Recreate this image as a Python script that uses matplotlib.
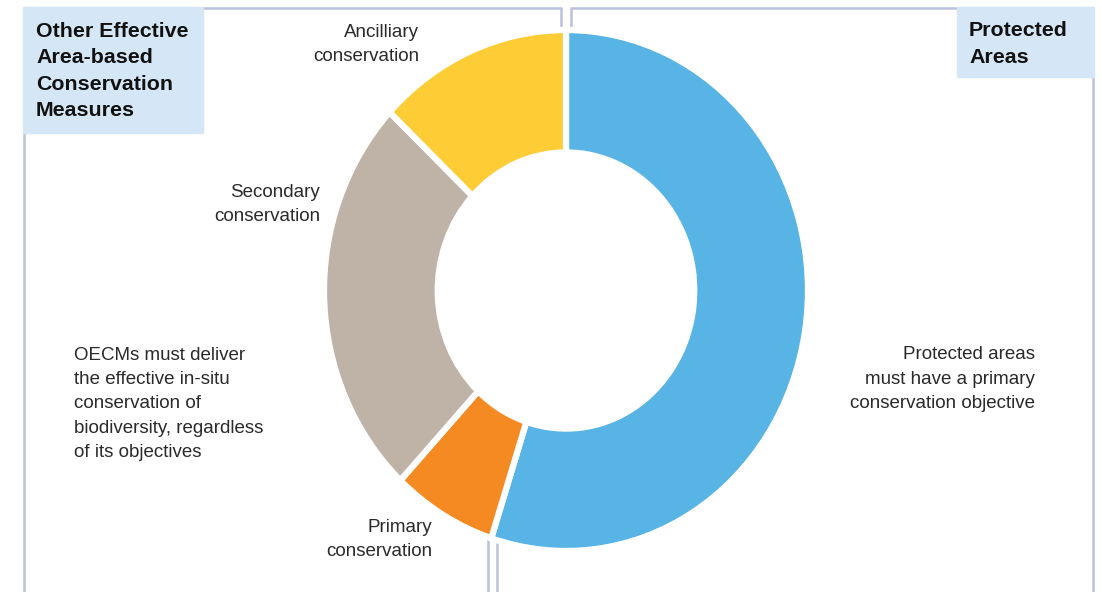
import matplotlib
matplotlib.use('Agg')
import matplotlib.pyplot as plt
from matplotlib.patches import Rectangle

# share of each conservation type
categories = ['Protected areas', 'Primary conservation', 'Secondary conservation', 'Ancilliary conservation']
shares = [55, 7, 25, 13]
colors = ['#57b4e5', '#f58a23', '#bfb2a6', '#fecc35']

plt.rcParams['font.family'] = ['Liberation Sans', 'DejaVu Sans']

fig = plt.figure(figsize=(11.02, 5.92), dpi=100)

# background axes in pixel coordinates (y down) for frames and text
ax = fig.add_axes([0, 0, 1, 1])
ax.set_xlim(0, 1102)
ax.set_ylim(592, 0)
ax.axis('off')

# donut gets its own axes, slightly taller than wide like the original
cx, cy, rx, ry = 566, 290.5, 242, 260.5
pie_ax = fig.add_axes([(cx - rx) / 1102, (592 - cy - ry) / 592, 2 * rx / 1102, 2 * ry / 592])
pie_ax.pie(shares, colors=colors, startangle=90, counterclock=False, radius=1,
           wedgeprops=dict(width=0.47, edgecolor='white', linewidth=4.5))
pie_ax.set_aspect('auto')
pie_ax.set_xlim(-1, 1)
pie_ax.set_ylim(-1, 1)
pie_ax.axis('off')

# frames around the two halves
line_kw = dict(color='#bcc1dc', lw=1.8, solid_capstyle='butt')
ax.plot([24, 24], [592, 133], **line_kw)
ax.plot([203, 561, 561], [8, 8, 34], **line_kw)
ax.plot([488, 488], [534, 592], **line_kw)
ax.plot([957, 571, 571], [8, 8, 34], **line_kw)
ax.plot([1093, 1093], [77, 592], **line_kw)
ax.plot([497, 497], [539, 592], **line_kw)

# heading boxes
ax.add_patch(Rectangle((23, 7), 180, 126, color='#d5e7f6', zorder=2))
ax.add_patch(Rectangle((957, 7), 137, 70, color='#d5e7f6', zorder=2))

head_kw = dict(fontsize=15.4, fontweight='bold', color='#111111', ha='left', va='center',
               linespacing=1.47, zorder=3)
ax.text(36, 71, 'Other Effective\nArea-based\nConservation\nMeasures', **head_kw)
ax.text(969, 44, 'Protected\nAreas', **head_kw)

body_kw = dict(fontsize=13.5, color='#2a2a2a', va='center', linespacing=1.55)
ax.text(419, 44.5, 'Ancilliary\nconservation', ha='right', **body_kw)
ax.text(320, 204.5, 'Secondary\nconservation', ha='right', **body_kw)
ax.text(432, 539.5, 'Primary\nconservation', ha='right', **body_kw)
ax.text(74, 404, 'OECMs must deliver\nthe effective in-situ\nconservation of\n'
        'biodiversity, regardless\nof its objectives', ha='left', **body_kw)
ax.text(1035, 379, 'Protected areas\nmust have a primary\nconservation objective',
        ha='right', multialignment='right', **body_kw)

fig.savefig('out.png', dpi=100)
